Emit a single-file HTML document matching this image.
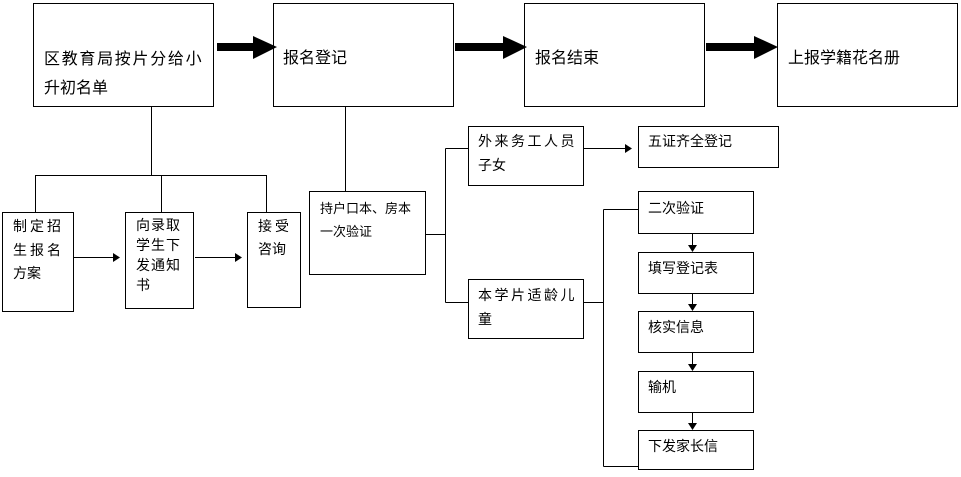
<!DOCTYPE html>
<html><head><meta charset="utf-8"><style>
body{margin:0;background:#fff;}
svg text{font-family:"Liberation Sans","Noto Sans CJK SC","WenQuanYi Zen Hei",sans-serif;fill:#000;}
</style></head><body>
<svg width="961" height="472" viewBox="0 0 961 472" xmlns="http://www.w3.org/2000/svg">
<g fill="none" stroke="#000" stroke-width="1">
<rect x="33.5" y="3.5" width="180" height="103"/>
<rect x="273.5" y="3.5" width="180" height="103"/>
<rect x="524.5" y="3.5" width="180" height="103"/>
<rect x="777.5" y="3.5" width="180" height="103"/>
<rect x="2.5" y="212.5" width="71" height="99"/>
<rect x="125.5" y="212.5" width="68" height="96"/>
<rect x="247.5" y="212.5" width="53" height="95"/>
<rect x="309.5" y="191.5" width="116" height="83"/>
<rect x="468.5" y="126.5" width="115" height="59"/>
<rect x="468.5" y="279.5" width="115" height="59"/>
<rect x="638.5" y="126.5" width="140" height="41"/>
<rect x="638.5" y="191.5" width="115" height="42"/>
<rect x="638.5" y="252.5" width="115" height="41"/>
<rect x="638.5" y="311.5" width="115" height="41"/>
<rect x="638.5" y="371.5" width="115" height="41"/>
<rect x="638.5" y="430.5" width="115" height="39"/>
<path d="M151.5 107V175.5M35.5 212V175.5H266.5V212M161.5 175.5V212M345.5 107V191"/>
<path d="M73 257.5H114M195 257.5H238"/>
<path d="M426 234.5H445.5M445.5 148.5V302.5M445.5 148.5H468M445.5 302.5H468"/>
<path d="M584 148.5H628"/>
<path d="M584 302.5H603.5M603.5 209.5V466.5M603.5 209.5H638M603.5 466.5H638"/>
<path d="M692.5 234V247M692.5 294V306M692.5 353V366M692.5 413V425"/>
</g>
<g fill="#000">
<path d="M217 43H253V36L277 47L253 59V51H217Z"/>
<path d="M455 43H503V36L527 47L503 59V51H455Z"/>
<path d="M706 43H754V36L778 47L754 59V51H706Z"/>
<path d="M113 253L120 257.5L113 262Z"/>
<path d="M235 253L242 257.5L235 262Z"/>
<path d="M625 144L632 148.5L625 153Z"/>
<path d="M688 245L692.5 252L697 245Z"/>
<path d="M688 304L692.5 311L697 304Z"/>
<path d="M688 364L692.5 371L697 364Z"/>
<path d="M688 423L692.5 430L697 423Z"/>
</g>
<g font-size="16">
<text x="44" y="64" letter-spacing="1.7">区教育局按片分给小</text>
<text x="44" y="93">升初名单</text>
<text x="283" y="63">报名登记</text>
<text x="535" y="63">报名结束</text>
<text x="788" y="63">上报学籍花名册</text>
</g>
<g font-size="14">
<text x="13" y="231" letter-spacing="3">制定招</text>
<text x="13" y="255" letter-spacing="3">生报名</text>
<text x="13" y="278">方案</text>
<text x="136" y="230" letter-spacing="1">向录取</text>
<text x="136" y="250" letter-spacing="1">学生下</text>
<text x="136" y="270" letter-spacing="1">发通知</text>
<text x="136" y="290">书</text>
<text x="258" y="231" letter-spacing="3">接受</text>
<text x="258" y="254">咨询</text>
<text x="320" y="213" font-size="13">持户口本、房本</text>
<text x="320" y="236" font-size="13">一次验证</text>
<text x="478" y="146" letter-spacing="2.5">外来务工人员</text>
<text x="478" y="170">子女</text>
<text x="478" y="300" letter-spacing="2.5">本学片适龄儿</text>
<text x="478" y="324">童</text>
<text x="648" y="146">五证齐全登记</text>
<text x="648" y="213">二次验证</text>
<text x="648" y="273">填写登记表</text>
<text x="648" y="332">核实信息</text>
<text x="648" y="392">输机</text>
<text x="648" y="451">下发家长信</text>
</g>
</svg>
</body></html>
